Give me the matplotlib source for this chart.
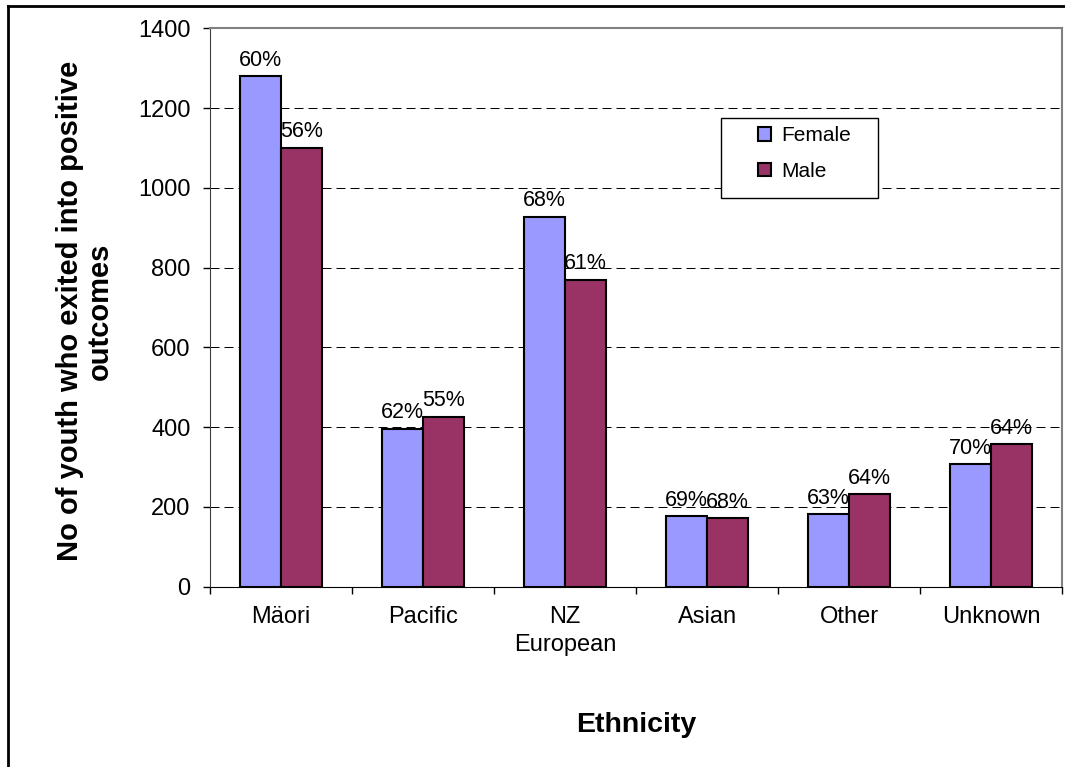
import numpy as np
import matplotlib
matplotlib.use("Agg")
from matplotlib import pyplot as plt
from matplotlib.patches import Rectangle
from matplotlib.lines import Line2D

# youth exiting into positive outcomes, by ethnicity and gender
ethnicity = ["Mäori", "Pacific", "NZ\nEuropean", "Asian", "Other", "Unknown"]
female = [1280, 396, 928, 177, 182, 307]
male = [1100, 426, 769, 172, 232, 357]
female_pct = [60, 62, 68, 69, 63, 70]
male_pct = [56, 55, 61, 68, 64, 64]
yticks = [0, 200, 400, 600, 800, 1000, 1200, 1400]

plt.rcParams['font.family'] = ['Liberation Sans', 'DejaVu Sans']

fig = plt.figure(figsize=(10.65, 7.67), dpi=100)
ax = fig.add_axes([0.1972, 0.2351, 0.8, 0.728])

x = np.arange(len(ethnicity)) + 0.5
w = 0.2857
bars_f = ax.bar(x - w / 2, female, w, color="#9999FF", edgecolor="black",
                linewidth=1.5, label="Female", zorder=3)
bars_m = ax.bar(x + w / 2, male, w, color="#993366", edgecolor="black",
                linewidth=1.5, label="Male", zorder=3)

for bars, pct in [(bars_f, female_pct), (bars_m, male_pct)]:
    for b, p in zip(bars, pct):
        ax.annotate(f"{p}%", (b.get_x() + b.get_width() / 2, b.get_height()),
                    xytext=(0, 4), textcoords="offset points",
                    ha="center", va="bottom", fontsize=15.5, zorder=4)

ax.set_xlim(0, len(ethnicity))
ax.set_ylim(0, 1400)
ax.set_yticks(yticks)
ax.tick_params(axis='y', length=5, width=1, pad=9, labelsize=17, direction='out')

# category boundaries get tick marks, names sit between them
ax.set_xticks(np.arange(len(ethnicity) + 1))
ax.set_xticklabels([])
ax.tick_params(axis='x', which='major', length=5, width=1, direction='out')
ax.set_xticks(x, minor=True)
ax.set_xticklabels(ethnicity, minor=True, fontsize=17, linespacing=1.35)
ax.tick_params(axis='x', which='minor', length=0, pad=14)

ax.set_axisbelow(True)
ax.yaxis.grid(True, color='black', linestyle=(0, (9, 5)), linewidth=0.72)

for side in ['top', 'right']:
    ax.spines[side].set_color('#808080')
    ax.spines[side].set_linewidth(1.5)
ax.spines['left'].set_color('#404040')
ax.spines['bottom'].set_color('black')

# legend box
ax.add_patch(Rectangle((0.5994, 0.6961), 0.1846, 0.1432, transform=ax.transAxes,
                       facecolor='white', edgecolor='black', linewidth=1,
                       zorder=5, clip_on=False))
leg = ax.legend(loc='upper left', bbox_to_anchor=(0.6338, 0.8394), frameon=False,
                fontsize=15, handlelength=0.6, handleheight=0.6, handletextpad=0.5,
                labelspacing=0.8, borderaxespad=0)
leg.set_zorder(6)

fig.text(85 / 1065, 1 - 311 / 767, "No of youth who exited into positive\noutcomes",
         rotation=90, ha='center', va='center', fontsize=21, fontweight='bold',
         linespacing=1.1, multialignment='center')
fig.text(636 / 1065, 1 - 725 / 767, "Ethnicity", ha='center', va='center',
         fontsize=20.5, fontweight='bold')

# outer chart frame (top and left edges)
fig.add_artist(Line2D([8 / 1065, 1], [1 - 6 / 767] * 2, color='black', linewidth=2))
fig.add_artist(Line2D([8 / 1065] * 2, [0, 1 - 6 / 767], color='black', linewidth=2))

fig.savefig("out.png", dpi=100)
